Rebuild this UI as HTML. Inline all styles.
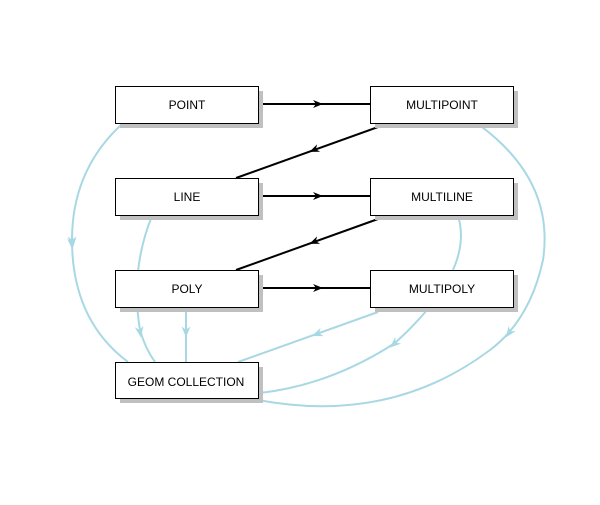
<!DOCTYPE html>
<html><head><style>
body{margin:0;background:#fff;}
svg text{font-family:"Liberation Sans",sans-serif;font-size:12px;}
</style></head><body>
<svg width="600" height="500" xmlns="http://www.w3.org/2000/svg">
<defs>
<marker id="b" viewBox="0 0 10 10" refX="5" refY="5" markerWidth="10" markerHeight="10" orient="auto" markerUnits="userSpaceOnUse"><path d="M0,1 L10,5 L0,9 L3,5z" fill="#000"/></marker>
<marker id="l" viewBox="0 0 10 10" refX="5" refY="5" markerWidth="11" markerHeight="11" orient="auto" markerUnits="userSpaceOnUse"><path d="M0,1 L10,5 L0,9 L3,5z" fill="#a8d8e4"/></marker>
</defs>
<g fill="none" stroke="#a8d8e4" stroke-width="2">
<path d="M122,124 Q72,170 72,240 Q72,320 128,362" />
<path d="M72,200 L72,242" marker-end="url(#l)" stroke="none"/>
<path d="M152,216 Q130,270 140,330 Q145,348 155,362"/>
<path d="M186,308 L186,362"/>
<path d="M378,312 L238,362"/>
<path d="M458,216 Q475,270 395,343 Q330,385 260,393"/>
<path d="M478,124 Q555,180 543,260 Q530,320 490,350 Q390,425 258,400"/>
</g>
<g fill="none" stroke="none">
<path d="M71,230 L72,244" marker-end="url(#l)"/>
<path d="M138,320 L140,332" marker-end="url(#l)"/>
<path d="M186,320 L186,332" marker-end="url(#l)"/>
<path d="M330,329 L317,334" marker-end="url(#l)"/>
<path d="M403,336 L394,344" marker-end="url(#l)"/>
<path d="M517,322 L509,333" marker-end="url(#l)"/>
</g>
<g stroke="#000" stroke-width="2" fill="none">
<path d="M263,104 L370,104"/><path d="M263,196 L370,196"/><path d="M263,288 L370,288"/>
<path d="M378,127 L236,178"/><path d="M378,219 L236,270"/>
</g>
<g fill="none" stroke="none">
<path d="M305,104 L318,104" marker-end="url(#b)"/>
<path d="M305,196 L318,196" marker-end="url(#b)"/>
<path d="M305,288 L318,288" marker-end="url(#b)"/>
<path d="M326,145 L314,150" marker-end="url(#b)"/>
<path d="M326,237 L314,242" marker-end="url(#b)"/>
</g>
<g>
<rect x="120" y="91" width="143" height="37" fill="#c0c0c0"/><rect x="115.5" y="86.5" width="143" height="37" fill="#fff" stroke="#000"/>
<text x="187" y="109" text-anchor="middle">POINT</text>
<rect x="375" y="91" width="143" height="37" fill="#c0c0c0"/><rect x="370.5" y="86.5" width="143" height="37" fill="#fff" stroke="#000"/>
<text x="442" y="109" text-anchor="middle">MULTIPOINT</text>
<rect x="120" y="183" width="143" height="37" fill="#c0c0c0"/><rect x="115.5" y="178.5" width="143" height="37" fill="#fff" stroke="#000"/>
<text x="187" y="201" text-anchor="middle">LINE</text>
<rect x="375" y="183" width="143" height="37" fill="#c0c0c0"/><rect x="370.5" y="178.5" width="143" height="37" fill="#fff" stroke="#000"/>
<text x="442" y="201" text-anchor="middle">MULTILINE</text>
<rect x="120" y="275" width="143" height="37" fill="#c0c0c0"/><rect x="115.5" y="270.5" width="143" height="37" fill="#fff" stroke="#000"/>
<text x="187" y="293" text-anchor="middle">POLY</text>
<rect x="375" y="275" width="143" height="37" fill="#c0c0c0"/><rect x="370.5" y="270.5" width="143" height="37" fill="#fff" stroke="#000"/>
<text x="442" y="293" text-anchor="middle">MULTIPOLY</text>
<rect x="120" y="367" width="143" height="36" fill="#c0c0c0"/><rect x="115.5" y="362.5" width="143" height="36" fill="#fff" stroke="#000"/>
<text x="186" y="386" text-anchor="middle">GEOM COLLECTION</text>
</g>
</svg>
</body></html>
